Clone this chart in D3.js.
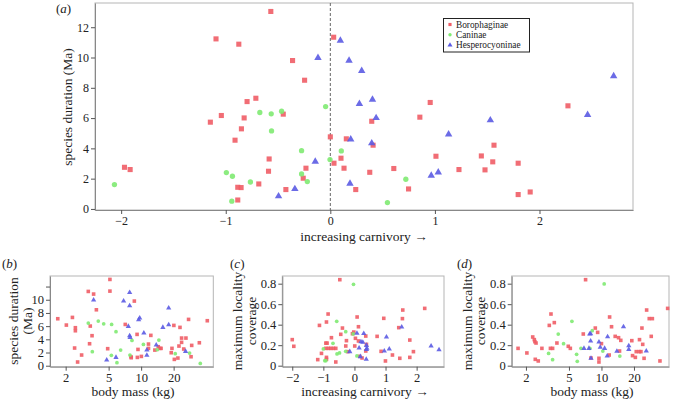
<!DOCTYPE html>
<html><head><meta charset="utf-8">
<script src="https://cdn.jsdelivr.net/npm/d3@7"></script>
<style>
body{margin:0;background:#fff;}
svg, svg text{font-family:"Liberation Serif","DejaVu Serif",serif !important;}
</style></head>
<body><svg id="chart" width="675" height="402"></svg>
<script>
const categories = ["Borophaginae", "Caninae", "Hesperocyoninae"];
const colors = ["#ef5d66", "#80ea72", "#5b5be3"];

const ticksDuration = [0, 2, 4, 6, 8, 10, 12];
const ticksCarnivory = [-2, -1, 0, 1, 2];
const ticksMass = [2, 5, 10, 20];
const ticksCoverage = [0, 0.2, 0.4, 0.6, 0.8];

// (a) carnivory vs species duration
const aBorophaginae = [[-0.569,13.04],[-1.093,11.23],[-0.875,10.88],[-0.361,9.80],[-0.246,8.50],[-0.796,7.09],[-0.712,7.31],[-1.147,5.73],[-1.042,6.17],[-0.824,6.01],[-0.850,5.29],[-0.450,6.26],[-0.911,4.54],[-0.585,3.30],[-0.591,2.49],[-0.684,1.65],[-0.425,1.28],[-0.885,1.43],[-0.853,1.41],[-0.885,0.59],[-1.968,2.75],[-1.914,2.60],[-0.233,2.69],[-0.259,2.03],[0.032,11.34],[0.0,4.76],[0.035,3.02],[0.102,3.35],[0.131,2.69],[0.153,4.63],[0.243,1.28],[0.396,5.79],[0.409,4.21],[0.377,2.42],[0.955,7.03],[0.856,6.06],[2.272,6.81],[1.010,3.48],[1.444,3.50],[1.565,4.21],[1.553,3.11],[0.607,2.67],[1.230,2.60],[1.479,2.58],[1.796,3.02],[0.748,1.32],[1.796,0.95],[1.911,1.12]];
const aCaninae = [[-2.064,1.61],[-0.994,2.40],[-0.936,2.16],[-0.942,0.51],[-0.764,1.78],[-0.674,6.37],[-0.565,6.28],[-0.562,5.15],[-0.466,6.45],[-0.275,3.85],[-0.275,2.31],[-0.220,1.81],[-0.045,6.76],[-0.003,3.26],[0.105,3.83],[0.546,0.42],[0.722,1.96]];
const aHesperocyoninae = [[-0.495,0.84],[-0.339,1.32],[-0.118,9.98],[-0.144,3.13],[0.096,11.12],[0.179,9.80],[0.300,9.12],[0.278,6.94],[0.403,7.22],[0.438,6.01],[0.195,4.60],[0.396,4.34],[0.188,1.67],[2.709,8.77],[2.460,6.21],[1.530,5.86],[1.131,4.93],[0.965,2.20],[1.032,2.42]];

// (b) body mass vs species duration
const bBorophaginae = [[1.69,7.12],[2.03,6.16],[2.31,7.32],[2.46,5.76],[2.46,5.30],[2.42,2.68],[2.58,0.56],[2.81,1.62],[3.24,11.26],[3.63,10.86],[3.85,8.48],[3.38,6.01],[3.51,4.55],[3.33,3.33],[5.14,13.08],[5.14,11.31],[4.90,2.58],[8.65,9.80],[7.13,6.26],[8.05,1.36],[8.1,1.21],[9.17,4.75],[9.35,2.47],[9.23,1.26],[10.05,1.41],[12.3,4.6],[11.7,3.28],[11.7,2.63],[13.4,2.37],[14.4,2.88],[14.9,2.63],[15.3,2.63],[19.3,2.63],[19.0,1.97],[20.1,6.11],[20.3,0.96],[21.9,1.16],[22.9,5.81],[22.4,2.98],[23.7,3.54],[23.7,4.19],[26.0,4.19],[24.8,2.53],[27.5,7.02],[29.4,3.08],[29.0,1.36],[34.6,3.48],[41.0,6.82]];
const bCaninae = [[3.24,6.46],[3.53,2.12],[4.01,6.77],[4.50,6.36],[5.33,6.26],[5.85,5.15],[5.30,1.57],[5.97,0.45],[6.46,2.37],[7.88,1.62],[8.23,3.84],[10.5,3.23],[14.1,2.42],[14.6,3.89],[20.7,1.82],[28.1,1.92],[35.3,0.35]];
const bHesperocyoninae = [[3.63,9.95],[4.80,0.86],[5.85,1.26],[6.88,9.80],[7.83,11.11],[7.83,9.09],[7.61,5.96],[7.83,4.55],[7.9,4.29],[9.48,6.97],[9.7,7.22],[10.6,4.95],[11.3,2.37],[11.3,1.57],[13.8,3.13],[15.9,5.81],[18.0,8.74],[18.0,6.21],[25.8,2.17]];

// (c) carnivory vs maximum locality coverage
const cBorophaginae = [[-2.00,0.254],[-1.95,0.189],[-1.125,0.393],[-1.06,0.12],[-1.18,0.059],[-0.92,0.22],[-0.90,0.426],[-0.847,0.504],[-0.88,0.22],[-0.92,0.169],[-0.836,0.169],[-0.76,0.169],[-0.675,0.169],[-0.60,0.169],[-0.90,0.081],[-0.90,0.062],[-0.74,0.273],[-0.60,0.036],[-0.47,0.839],[-0.44,0.306],[-0.386,0.367],[-0.257,0.244],[-0.279,0.192],[-0.214,0.137],[-0.064,0.312],[-0.02,0.328],[0.032,0.267],[0.01,0.192],[0.086,0.475],[0.129,0.38],[0.129,0.241],[0.17,0.091],[0.246,0.075],[0.364,0.289],[0.386,0.208],[0.364,0.143],[0.729,0.286],[0.857,0.14],[0.943,0.462],[0.997,0.046],[1.222,0.104],[1.425,0.371],[1.458,0.072],[1.543,0.459],[1.554,0.543],[1.78,0.25],[1.78,0.081],[1.897,0.137],[2.26,0.559]];
const cCaninae = [[-1.0,0.163],[-0.954,0.049],[-0.92,0.049],[-0.69,0.218],[-0.57,0.433],[-0.56,0.114],[-0.48,0.124],[-0.28,0.332],[-0.28,0.140],[-0.03,0.794],[-0.04,0.31],[0.08,0.095]];
const cHesperocyoninae = [[-0.15,0.137],[0.08,0.316],[0.15,0.172],[0.19,0.088],[0.21,0.234],[0.30,0.313],[0.27,0.228],[0.386,0.198],[0.386,0.159],[0.40,0.17],[0.38,0.062],[0.96,0.143],[1.03,0.28],[1.12,0.163],[1.52,0.377],[2.465,0.192],[2.72,0.156]];

// (d) body mass vs maximum locality coverage
const dBorophaginae = [[1.69,0.169],[2.04,0.124],[2.31,0.28],[2.39,0.254],[2.42,0.234],[2.48,0.221],[2.44,0.062],[2.60,0.046],[2.81,0.169],[3.29,0.393],[3.41,0.504],[3.37,0.169],[3.53,0.169],[3.66,0.42],[3.87,0.221],[4.93,0.189],[5.15,0.169],[7.13,0.839],[6.79,0.309],[8.77,0.367],[9.22,0.325],[9.48,0.072],[9.48,0.036],[8.0,0.075],[10.0,0.215],[11.9,0.475],[11.8,0.104],[12.4,0.38],[13.4,0.286],[14.4,0.273],[15.1,0.247],[14.7,0.143],[19.1,0.244],[19.4,0.098],[20.6,0.081],[21.0,0.137],[22.4,0.137],[22.5,0.254],[23.2,0.137],[24.1,0.208],[23.7,0.367],[24.8,0.072],[26.2,0.543],[27.7,0.459],[29.6,0.459],[28.9,0.286],[34.8,0.046],[41.0,0.559]];
const dCaninae = [[3.24,0.12],[3.53,0.059],[3.98,0.309],[4.46,0.215],[5.33,0.433],[5.89,0.111],[5.97,0.042],[6.46,0.169],[7.82,0.169],[8.22,0.341],[10.6,0.797],[10.3,0.143],[14.8,0.094]];
const dHesperocyoninae = [[6.89,0.169],[7.66,0.169],[7.78,0.309],[7.94,0.241],[8.0,0.072],[7.94,0.312],[9.48,0.231],[9.75,0.179],[10.7,0.169],[11.3,0.094],[11.4,0.283],[13.9,0.14],[16.0,0.38],[17.9,0.195],[17.9,0.159],[26.0,0.143]];

const FONT = "Liberation Serif";
const svg = d3.select("#chart");
const shapes = [d3.symbolSquare, d3.symbolCircle, d3.symbolTriangle];

function panel(o) {
  const x = (o.log ? d3.scaleLog() : d3.scaleLinear()).domain(o.xDomain).range([o.left, o.right]);
  const y = d3.scaleLinear().domain(o.yDomain).range([o.bottom, o.top]);
  const g = svg.append("g");
  g.append("rect").attr("x", o.left).attr("y", o.top)
    .attr("width", o.right - o.left).attr("height", o.bottom - o.top)
    .attr("fill", "none").attr("stroke", "#b5b5b5").attr("stroke-width", 1);
  const xa = d3.axisBottom(x).tickValues(o.xTicks).tickSize(4).tickSizeOuter(0).tickPadding(2)
    .tickFormat(d3.format("d"));
  const ya = d3.axisLeft(y).tickValues(o.yTicks).tickSize(4).tickSizeOuter(0).tickPadding(2)
    .tickFormat(o.yFormat);
  const gx = g.append("g").attr("transform", `translate(0,${o.bottom})`).call(xa);
  const gy = g.append("g").attr("transform", `translate(${o.left},0)`).call(ya);
  [gx, gy].forEach(a => {
    a.attr("font-family", FONT);
    a.select(".domain").attr("stroke", "#888");
    a.selectAll(".tick line").attr("stroke", "#555");
    a.selectAll("text").attr("font-family", FONT).attr("font-size", o.tickFont).attr("fill", "#222");
  });
  if (o.dashZero) {
    g.append("line").attr("x1", x(0)).attr("x2", x(0)).attr("y1", o.top).attr("y2", o.bottom)
      .attr("stroke", "#666").attr("stroke-dasharray", "3,2").attr("stroke-width", 1);
  }
  o.series.forEach((s, i) => {
    g.append("g").selectAll("path").data(s).join("path")
      .attr("transform", d => `translate(${x(d[0])},${y(d[1])})`)
      .attr("d", d3.symbol().type(shapes[i]).size(o.sizes[i]))
      .attr("fill", colors[i]).attr("fill-opacity", 0.9);
  });
  const t = g.append("text").attr("x", o.letterX).attr("y", o.letterY)
    .attr("font-family", FONT).attr("font-size", 13).attr("fill", "#222");
  t.append("tspan").text("(");
  t.append("tspan").attr("font-style", "italic").text(o.letter);
  t.append("tspan").text(")");
  g.append("text").attr("x", o.xTitleX).attr("y", o.xTitleY).attr("text-anchor", "middle")
    .attr("font-family", FONT).attr("font-size", o.titleFont).attr("fill", "#222").text(o.xTitle);
  o.yTitle.forEach((line, k) => {
    g.append("text").attr("transform", `translate(${o.yTitleX[k]},${o.yTitleY}) rotate(-90)`)
      .attr("text-anchor", "middle").attr("dominant-baseline", "central")
      .attr("font-family", FONT).attr("font-size", o.titleFont).attr("fill", "#222").text(line);
  });
  return {x, y, g};
}

panel({
  left: 95, right: 633, top: 3, bottom: 210,
  xDomain: [-2.25, 2.894], yDomain: [-0.07, 13.6],
  xTicks: ticksCarnivory, yTicks: ticksDuration, yFormat: d3.format("d"),
  tickFont: 12, titleFont: 13.5, dashZero: true,
  series: [aBorophaginae, aCaninae, aHesperocyoninae], sizes: [26, 22, 24],
  letter: "a", letterX: 56, letterY: 13,
  xTitle: "increasing carnivory \u2192", xTitleX: 364, xTitleY: 241,
  yTitle: ["species duration (Ma)"], yTitleX: [67], yTitleY: 107
});

const lg = svg.append("g");
lg.append("rect").attr("x", 443.5).attr("y", 18.5).attr("width", 86).attr("height", 33.5)
  .attr("fill", "#fff").attr("stroke", "#222").attr("stroke-width", 1);
categories.forEach((c, i) => {
  const yy = 24.5 + i * 10.3;
  lg.append("path").attr("transform", `translate(450,${yy})`)
    .attr("d", d3.symbol().type(shapes[i]).size([10, 9, 11][i])).attr("fill", colors[i]);
  lg.append("text").attr("x", 456).attr("y", yy + 3.1)
    .attr("font-family", FONT).attr("font-size", 9.3).attr("fill", "#222").text(c);
});

panel({
  left: 50, right: 213.3, top: 276, bottom: 366.7, log: true,
  xDomain: [1.432, 46.6], yDomain: [-0.15, 13.6],
  xTicks: ticksMass, yTicks: ticksDuration, yFormat: d => d === 12 ? "" : d3.format("d")(d),
  tickFont: 12.5, titleFont: 13.5,
  series: [bBorophaginae, bCaninae, bHesperocyoninae], sizes: [13, 11, 12],
  letter: "b", letterX: 2, letterY: 268,
  xTitle: "body mass (kg)", xTitleX: 133, xTitleY: 396,
  yTitle: ["species duration", "(Ma)"], yTitleX: [13, 27], yTitleY: 321
});

panel({
  left: 282.3, right: 444, top: 276, bottom: 366.7,
  xDomain: [-2.32, 2.88], yDomain: [-0.01, 0.875],
  xTicks: ticksCarnivory, yTicks: ticksCoverage, yFormat: d => d === 0 ? "0" : d3.format(".1f")(d),
  tickFont: 12.5, titleFont: 13.5,
  series: [cBorophaginae, cCaninae, cHesperocyoninae], sizes: [13, 11, 12],
  letter: "c", letterX: 230, letterY: 268,
  xTitle: "increasing carnivory \u2192", xTitleX: 365, xTitleY: 396,
  yTitle: ["maximum locality", "coverage"], yTitleX: [237.5, 251], yTitleY: 321
});

panel({
  left: 511.7, right: 669, top: 276, bottom: 366.7, log: true,
  xDomain: [1.476, 42.2], yDomain: [-0.01, 0.875],
  xTicks: ticksMass, yTicks: ticksCoverage, yFormat: d => d === 0 ? "0" : d3.format(".1f")(d),
  tickFont: 12.5, titleFont: 13.5,
  series: [dBorophaginae, dCaninae, dHesperocyoninae], sizes: [13, 11, 12],
  letter: "d", letterX: 457, letterY: 268,
  xTitle: "body mass (kg)", xTitleX: 592, xTitleY: 396,
  yTitle: ["maximum locality", "coverage"], yTitleX: [467, 480], yTitleY: 321
});
</script></body></html>
